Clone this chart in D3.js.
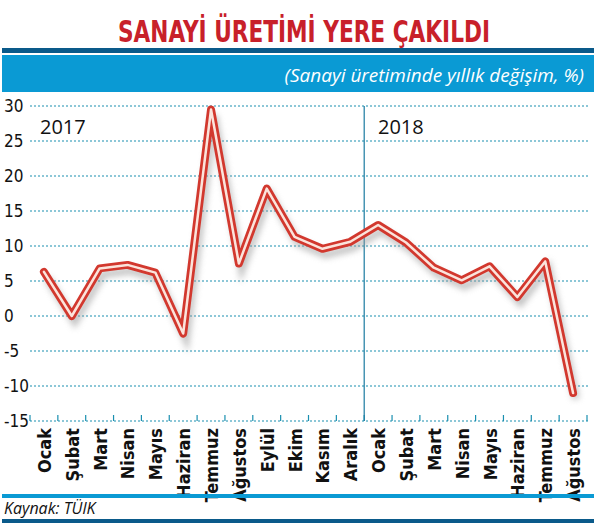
<!DOCTYPE html>
<html><head><meta charset="utf-8">
<script src="https://cdn.jsdelivr.net/npm/d3@7"></script>
<style>body{margin:0;background:#fff}</style>
</head><body>
<svg id="chart" width="596" height="526"></svg>
<script>
const months = ["Ocak","Şubat","Mart","Nisan","Mayıs","Haziran","Temmuz","Ağustos","Eylül","Ekim","Kasım","Aralık",
                "Ocak","Şubat","Mart","Nisan","Mayıs","Haziran","Temmuz","Ağustos"];
const values = [6.3,0,6.8,7.3,6.2,-2.5,29.5,7.5,18.2,11.3,9.6,10.6,13.0,10.5,6.9,5.1,7.1,2.7,7.8,-11.0];
const yTicks = [30,25,20,15,10,5,0,-5,-10,-15];

const svg = d3.select("#chart");
const cond = "'Liberation Sans Narrow','DejaVu Sans Condensed',sans-serif";

// title & header bands
svg.append("text").attr("x", 304).attr("y", 42).attr("text-anchor", "middle")
    .attr("font-family", cond).attr("font-weight", "bold").attr("font-size", 31)
    .attr("textLength", 372).attr("lengthAdjust", "spacingAndGlyphs")
    .attr("fill", "#c8202a").text("SANAYİ ÜRETİMİ YERE ÇAKILDI");
svg.append("rect").attr("x", 2).attr("y", 48).attr("width", 592).attr("height", 5).attr("fill", "#0a5a8a");
svg.append("rect").attr("x", 2).attr("y", 55).attr("width", 592).attr("height", 37).attr("fill", "#0a9ad4");
svg.append("text").attr("x", 584).attr("y", 82).attr("text-anchor", "end")
    .attr("font-family", "'Open Sans',sans-serif").attr("font-style", "italic").attr("font-size", 19)
    .attr("fill", "#fff").text("(Sanayi üretiminde yıllık değişim, %)");

const x = d3.scaleBand().domain(d3.range(months.length)).range([30, 587]);
const y = d3.scaleLinear().domain([-15, 30]).range([421, 106]);

// grid
svg.append("g").selectAll("line").data(yTicks).join("line")
    .attr("x1", 30).attr("x2", 588).attr("y1", d => y(d)).attr("y2", d => y(d))
    .attr("stroke", "#1a8fb0").attr("stroke-width", 1.2).attr("stroke-dasharray", "2,2");
svg.append("g").selectAll("text").data(yTicks).join("text")
    .attr("x", 4).attr("y", d => y(d) + 6)
    .attr("font-family", cond).attr("font-size", 17).attr("fill", "#111").text(d => d);

// bottom ticks
svg.append("g").selectAll("line").data(d3.range(months.length + 1)).join("line")
    .attr("x1", i => 30 + i * x.step()).attr("x2", i => 30 + i * x.step())
    .attr("y1", y(-15) - 6).attr("y2", y(-15)).attr("stroke", "#1a8fb0").attr("stroke-width", 1.2);

// 2018 divider
svg.append("line").attr("x1", x(12)).attr("x2", x(12)).attr("y1", 106).attr("y2", y(-15))
    .attr("stroke", "#1a7aa0").attr("stroke-width", 1.2);
svg.append("text").attr("x", 40).attr("y", 134).attr("font-family", "'Open Sans',sans-serif")
    .attr("font-size", 20).attr("fill", "#111").text("2017");
svg.append("text").attr("x", 378).attr("y", 134).attr("font-family", "'Open Sans',sans-serif")
    .attr("font-size", 20).attr("fill", "#111").text("2018");

// month labels
svg.append("g").selectAll("text").data(months).join("text")
    .attr("transform", (d, i) => `translate(${x(i) + x.bandwidth() / 2 + 7},${y(-15) + 7}) rotate(-90)`)
    .attr("text-anchor", "end").attr("font-family", cond).attr("font-weight", "bold")
    .attr("font-size", 18).attr("fill", "#111").text(d => d);

// line
const line = d3.line().x((d, i) => x(i) + x.bandwidth() / 2).y(d => y(d));
const defs = svg.append("defs");
defs.append("filter").attr("id", "sh").append("feGaussianBlur").attr("stdDeviation", 3);
svg.append("path").attr("d", line(values)).attr("transform", "translate(3,6)")
    .attr("fill", "none").attr("stroke", "#999").attr("stroke-width", 7).attr("opacity", 0.6)
    .attr("filter", "url(#sh)");
svg.append("path").attr("d", line(values)).attr("fill", "none").attr("stroke", "#d2382e")
    .attr("stroke-width", 8).attr("stroke-linejoin", "round").attr("stroke-linecap", "round");
svg.append("path").attr("d", line(values)).attr("fill", "none").attr("stroke", "#fbe4dc")
    .attr("stroke-width", 2.5).attr("stroke-linejoin", "round").attr("stroke-linecap", "round");

// footer
svg.append("rect").attr("x", 2).attr("y", 494).attr("width", 592).attr("height", 4).attr("fill", "#0a9ad4");
svg.append("text").attr("x", 4).attr("y", 514).attr("font-family", "'Open Sans',sans-serif")
    .attr("font-style", "italic").attr("font-size", 16).attr("fill", "#111").text("Kaynak: TÜlK");
svg.append("rect").attr("x", 2).attr("y", 519).attr("width", 592).attr("height", 4).attr("fill", "#0a5a8a");
</script>
</body></html>
